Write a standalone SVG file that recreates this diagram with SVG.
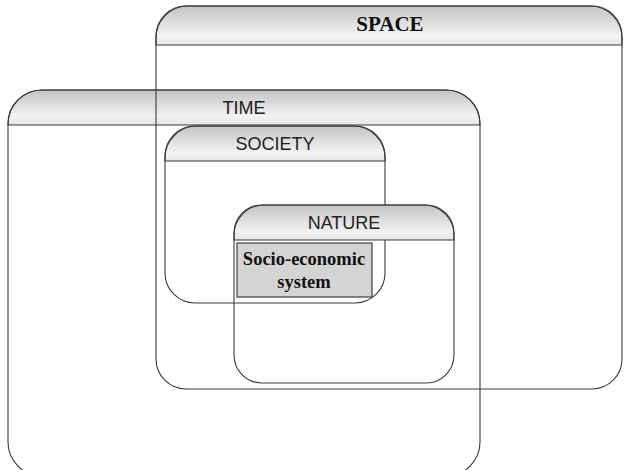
<svg xmlns="http://www.w3.org/2000/svg" width="624" height="470" viewBox="0 0 624 470">
<defs>
<linearGradient id="hdr" x1="0" y1="0" x2="0" y2="1">
<stop offset="0" stop-color="#c4c4c4"/>
<stop offset="0.75" stop-color="#f2f2f2"/>
<stop offset="1" stop-color="#e6e6e6"/>
</linearGradient>
<style>
.out{fill:none;stroke:#3a3a3a;stroke-width:1.1}
.hd{fill:url(#hdr);stroke:#3a3a3a;stroke-width:1.1}
.sans{font-family:"Liberation Sans",Arial,sans-serif;font-size:18px;fill:#222;text-anchor:middle}
.serif{font-family:"Liberation Serif","Times New Roman",serif;font-weight:bold;fill:#111;text-anchor:middle}
</style>
</defs>
<rect width="624" height="470" fill="#fff"/>
<g id="time">
<path class="hd" d="M8,125 V124 A34,34 0 0 1 42,90 H446 A34,34 0 0 1 480,124 V125 Z"/>
<rect class="out" x="8" y="90" width="472" height="386" rx="34" ry="34"/>
<text class="sans" x="244" y="114">TIME</text>
</g>
<g id="space">
<path class="hd" d="M156,45 V38 A32,32 0 0 1 188,6 H590 A32,32 0 0 1 622,38 V45 Z"/>
<rect class="out" x="156" y="6" width="466" height="383" rx="30" ry="30"/>
<text class="serif" x="390" y="31" font-size="21">SPACE</text>
</g>
<g id="society">
<path class="hd" d="M165,161 V158 A32,32 0 0 1 197,126 H353 A32,32 0 0 1 385,158 V161 Z"/>
<rect class="out" x="165" y="126" width="220" height="177" rx="30" ry="30"/>
<text class="sans" x="275" y="150">SOCIETY</text>
</g>
<g id="nature">
<path class="hd" d="M234,240 V235 A30,30 0 0 1 264,205 H424 A30,30 0 0 1 454,235 V240 Z"/>
<rect class="out" x="234" y="205" width="220" height="178" rx="28" ry="28"/>
<text class="sans" x="344" y="229">NATURE</text>
</g>
<g id="socio-economic">
<rect x="237" y="243" width="135" height="54" fill="#d4d4d4" stroke="#4a4a4a" stroke-width="1.3"/>
<text class="serif" x="304" y="265" font-size="18.5">Socio-economic</text>
<text class="serif" x="304" y="288" font-size="18.5">system</text>
</g>
<g id="connectors"></g>
</svg>
